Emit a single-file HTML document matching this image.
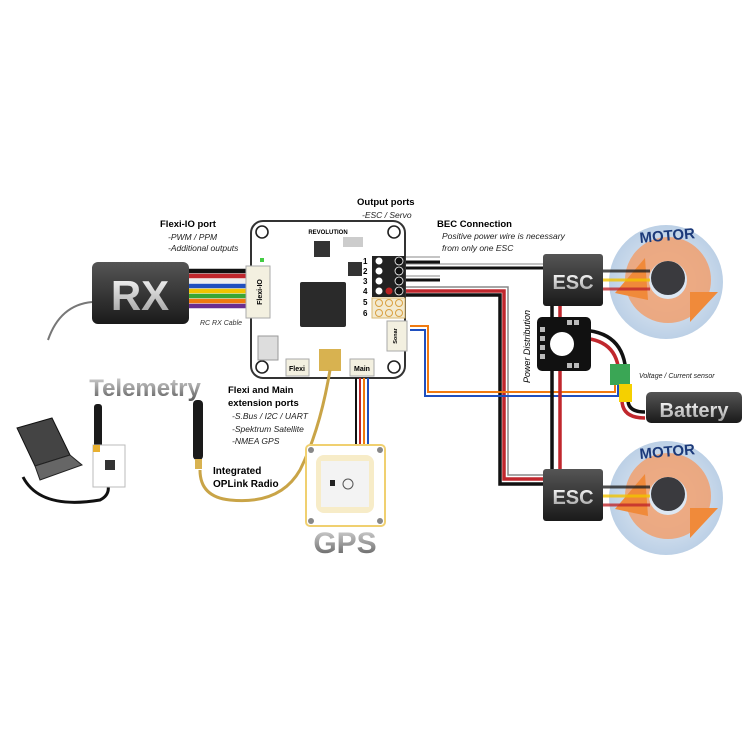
<!DOCTYPE html>
<html><head><meta charset="utf-8"><style>
html,body{margin:0;padding:0;background:#fff}
svg{display:block}
text{font-family:"Liberation Sans",sans-serif}
</style></head><body>
<svg width="750" height="750" viewBox="0 0 750 750" xmlns="http://www.w3.org/2000/svg">
<defs>
<linearGradient id="gt" x1="0" y1="0" x2="0" y2="1"><stop offset="0" stop-color="#d8d8d8"/><stop offset="0.5" stop-color="#9a9a9a"/><stop offset="1" stop-color="#555"/></linearGradient>
<linearGradient id="gb" x1="0" y1="0" x2="0" y2="1"><stop offset="0" stop-color="#555"/><stop offset="1" stop-color="#1a1a1a"/></linearGradient>
<linearGradient id="gw" x1="0" y1="0" x2="0" y2="1"><stop offset="0" stop-color="#fff"/><stop offset="1" stop-color="#999"/></linearGradient>
<radialGradient id="gm"><stop offset="0.3" stop-color="#dde7f2"/><stop offset="1" stop-color="#bcd0e6"/></radialGradient>
</defs>

<path d="M92 302 Q60 305 48 340" fill="none" stroke="#777" stroke-width="2"/>
<g stroke-width="4.4">
<line x1="185" y1="271" x2="250" y2="271" stroke="#111"/>
<line x1="185" y1="276" x2="250" y2="276" stroke="#c0272d"/>
<line x1="185" y1="281" x2="250" y2="281" stroke="#eee"/>
<line x1="185" y1="286" x2="250" y2="286" stroke="#1f4fbf"/>
<line x1="185" y1="291" x2="250" y2="291" stroke="#f2c400"/>
<line x1="185" y1="296" x2="250" y2="296" stroke="#3aa635"/>
<line x1="185" y1="301" x2="250" y2="301" stroke="#f07a10"/>
<line x1="185" y1="306" x2="250" y2="306" stroke="#6a2d91"/>
</g>
<rect x="92" y="262" width="97" height="62" rx="6" fill="url(#gb)"/>
<text x="140" y="310" font-size="42" font-weight="bold" fill="url(#gw)" text-anchor="middle">RX</text>
<text x="200" y="325" font-size="7" font-style="italic" fill="#333">RC RX Cable</text>

<text x="160" y="227" font-size="9.5" font-weight="bold">Flexi-IO port</text>
<text x="168" y="240" font-size="8.5" font-style="italic" fill="#222">-PWM / PPM</text>
<text x="168" y="251" font-size="8.5" font-style="italic" fill="#222">-Additional outputs</text>
<text x="357" y="205" font-size="9.5" font-weight="bold">Output ports</text>
<text x="362" y="218" font-size="8.5" font-style="italic" fill="#222">-ESC / Servo</text>
<text x="437" y="227" font-size="9.5" font-weight="bold">BEC Connection</text>
<text x="442" y="239" font-size="8.5" font-style="italic" fill="#222">Positive power wire is necessary</text>
<text x="442" y="251" font-size="8.5" font-style="italic" fill="#222">from only one ESC</text>

<!-- motors -->
<g id="m1">
<circle cx="666" cy="282" r="57" fill="url(#gm)"/>
<circle cx="668" cy="280" r="31" fill="none" stroke="#f0a070" stroke-width="24" opacity="0.85"/>
<path d="M615 293 L645 258 L648 300 Z" fill="#f08a3a"/>
<path d="M690 292 L718 292 L690 322 Z" fill="#f08a3a"/>
<circle cx="668" cy="278" r="17" fill="#3a3a3e"/>
<text x="640" y="243" font-size="15" font-weight="bold" fill="#1c3a7a" transform="rotate(-5 640 243)">MOTOR</text>
</g>
<g>
<circle cx="666" cy="498" r="57" fill="url(#gm)"/>
<circle cx="668" cy="496" r="31" fill="none" stroke="#f0a070" stroke-width="24" opacity="0.85"/>
<path d="M615 509 L645 474 L648 516 Z" fill="#f08a3a"/>
<path d="M690 508 L718 508 L690 538 Z" fill="#f08a3a"/>
<circle cx="668" cy="494" r="17" fill="#3a3a3e"/>
<text x="640" y="459" font-size="15" font-weight="bold" fill="#1c3a7a" transform="rotate(-5 640 459)">MOTOR</text>
</g>
<g stroke-width="3" opacity="0.8">
<line x1="600" y1="271" x2="650" y2="271" stroke="#222"/><line x1="600" y1="280" x2="650" y2="280" stroke="#f2c400"/><line x1="600" y1="289" x2="650" y2="289" stroke="#c0272d"/>
<line x1="600" y1="487" x2="650" y2="487" stroke="#222"/><line x1="600" y1="496" x2="650" y2="496" stroke="#f2c400"/><line x1="600" y1="505" x2="650" y2="505" stroke="#c0272d"/>
</g>

<g fill="none">
<line x1="405" y1="262" x2="440" y2="262" stroke="#111" stroke-width="3"/>
<line x1="405" y1="257" x2="440" y2="257" stroke="#888" stroke-width="1"/>
<path d="M405 268 L545 268" stroke="#111" stroke-width="3"/><path d="M405 264 L545 264" stroke="#888" stroke-width="1"/>
<line x1="405" y1="280" x2="440" y2="280" stroke="#111" stroke-width="3"/>
<line x1="405" y1="276" x2="440" y2="276" stroke="#888" stroke-width="1"/>
<path d="M405 287 L508 287 L508 475 L545 475" stroke="#888" stroke-width="1.5"/>
<path d="M405 291 L504 291 L504 479 L545 479" stroke="#c0272d" stroke-width="3.5"/>
<path d="M405 295 L500 295 L500 484 L545 484" stroke="#111" stroke-width="3.5"/>
<path d="M410 326 L428 326 L428 392 L615 392 L615 380" stroke="#f07a10" stroke-width="2"/>
<path d="M410 330 L425 330 L425 396 L618 396 L618 380" stroke="#1f4fbf" stroke-width="2"/>
<line x1="552" y1="300" x2="552" y2="475" stroke="#111" stroke-width="3.5"/>
<line x1="560" y1="300" x2="560" y2="475" stroke="#c0272d" stroke-width="3.5"/>
<path d="M578 330 Q625 330 626 375" stroke="#111" stroke-width="3.5"/>
<path d="M578 338 Q618 338 619 375" stroke="#c0272d" stroke-width="3.5"/>
<path d="M628 400 Q628 412 645 412" stroke="#111" stroke-width="3.5"/>
<path d="M622 400 Q622 418 645 418" stroke="#c0272d" stroke-width="3.5"/>
</g>
<rect x="537" y="317" width="54" height="54" rx="5" fill="#111"/>
<circle cx="562" cy="344" r="12" fill="#fff"/>
<g fill="#bbb"><rect x="540" y="327" width="5" height="5"/><rect x="540" y="336" width="5" height="5"/><rect x="540" y="345" width="5" height="5"/><rect x="540" y="354" width="5" height="5"/><rect x="567" y="320" width="5" height="5"/><rect x="574" y="320" width="5" height="5"/><rect x="567" y="363" width="5" height="5"/><rect x="574" y="363" width="5" height="5"/></g>
<text x="530" y="383" font-size="9" font-style="italic" transform="rotate(-90 530 383)">Power Distribution</text>
<rect x="610" y="364" width="20" height="21" fill="#3aa655"/>
<rect x="619" y="384" width="13" height="18" fill="#f5d000"/>
<text x="639" y="378" font-size="7" font-style="italic" fill="#222">Voltage / Current sensor</text>
<rect x="646" y="392" width="96" height="31" rx="5" fill="url(#gb)"/>
<text x="694" y="417" font-size="20" font-weight="bold" fill="url(#gw)" text-anchor="middle">Battery</text>
<rect x="543" y="254" width="60" height="52" rx="3" fill="url(#gb)"/>
<text x="573" y="289" font-size="20" font-weight="bold" fill="url(#gw)" text-anchor="middle">ESC</text>
<rect x="543" y="469" width="60" height="52" rx="3" fill="url(#gb)"/>
<text x="573" y="504" font-size="20" font-weight="bold" fill="url(#gw)" text-anchor="middle">ESC</text>

<rect x="251" y="221" width="154" height="157" rx="12" fill="#fff" stroke="#333" stroke-width="2"/>
<g fill="none" stroke="#222" stroke-width="1.6"><circle cx="262" cy="232" r="6"/><circle cx="394" cy="232" r="6"/><circle cx="262" cy="367" r="6"/><circle cx="394" cy="367" r="6"/></g>
<text x="328" y="234" font-size="6" font-weight="bold" text-anchor="middle">REVOLUTION</text>
<rect x="300" y="282" width="46" height="45" rx="2" fill="#2a2a2a"/>
<rect x="314" y="241" width="16" height="16" fill="#333"/>
<rect x="348" y="262" width="14" height="14" fill="#333"/>
<rect x="343" y="237" width="20" height="10" fill="#ccc"/>
<rect x="258" y="336" width="20" height="24" fill="#ddd" stroke="#999"/>
<rect x="246" y="266" width="24" height="52" fill="#f3f0e0" stroke="#aaa"/>
<text x="262" y="292" font-size="7" font-weight="bold" text-anchor="middle" transform="rotate(-90 262 292)">Flexi-IO</text>
<rect x="260" y="258" width="4" height="4" fill="#4c4"/>
<rect x="372" y="256" width="33" height="41" fill="#222"/>
<g fill="#fff" stroke="#222"><circle cx="379" cy="261" r="4"/><circle cx="379" cy="271" r="4"/><circle cx="379" cy="281" r="4"/><circle cx="379" cy="291" r="4"/></g>
<g fill="#111" stroke="#fff" stroke-width="0.8"><circle cx="399" cy="261" r="4"/><circle cx="399" cy="271" r="4"/><circle cx="399" cy="281" r="4"/><circle cx="399" cy="291" r="4"/></g>
<circle cx="389" cy="291" r="3.5" fill="#b22"/>
<rect x="372" y="298" width="33" height="20" fill="#f3ead0" stroke="#d9b870"/>
<g fill="none" stroke="#d9a040"><circle cx="379" cy="303" r="3.5"/><circle cx="389" cy="303" r="3.5"/><circle cx="399" cy="303" r="3.5"/><circle cx="379" cy="313" r="3.5"/><circle cx="389" cy="313" r="3.5"/><circle cx="399" cy="313" r="3.5"/></g>
<g font-size="8" font-weight="bold"><text x="363" y="264">1</text><text x="363" y="274">2</text><text x="363" y="284">3</text><text x="363" y="294">4</text><text x="363" y="305">5</text><text x="363" y="316">6</text></g>
<rect x="387" y="321" width="20" height="30" fill="#f3f0e0" stroke="#aaa"/>
<text x="397" y="336" font-size="5.5" font-weight="bold" text-anchor="middle" transform="rotate(-90 397 336)">Sonar</text>
<rect x="286" y="359" width="23" height="17" fill="#f3f0e0" stroke="#aaa"/>
<text x="297" y="371" font-size="7" font-weight="bold" text-anchor="middle">Flexi</text>
<rect x="350" y="359" width="24" height="17" fill="#f3f0e0" stroke="#aaa"/>
<text x="362" y="371" font-size="7" font-weight="bold" text-anchor="middle">Main</text>
<rect x="319" y="349" width="22" height="22" fill="#d8b250"/>

<g stroke-width="2" fill="none"><line x1="356" y1="378" x2="356" y2="445" stroke="#111"/><line x1="360" y1="378" x2="360" y2="445" stroke="#c0272d"/><line x1="364" y1="378" x2="364" y2="445" stroke="#f07a10"/><line x1="368" y1="378" x2="368" y2="445" stroke="#1f4fbf"/></g>
<path d="M330 370 Q320 430 300 470 Q280 505 230 500 Q200 497 200 470" fill="none" stroke="#c9a447" stroke-width="3"/>
<rect x="193" y="400" width="10" height="60" rx="4" fill="#1a1a1a"/>
<rect x="195" y="459" width="7" height="10" fill="#d8b250"/>
<text x="213" y="474" font-size="10" font-weight="bold">Integrated</text>
<text x="213" y="487" font-size="10" font-weight="bold">OPLink  Radio</text>
<text x="228" y="393" font-size="9.5" font-weight="bold">Flexi and Main</text>
<text x="228" y="406" font-size="9.5" font-weight="bold">extension ports</text>
<text x="232" y="419" font-size="8.5" font-style="italic" fill="#222">-S.Bus / I2C / UART</text>
<text x="232" y="432" font-size="8.5" font-style="italic" fill="#222">-Spektrum Satellite</text>
<text x="232" y="444" font-size="8.5" font-style="italic" fill="#222">-NMEA GPS</text>

<rect x="306" y="445" width="79" height="81" rx="4" fill="#fff" stroke="#f0d070" stroke-width="2"/>
<rect x="316" y="455" width="58" height="58" rx="8" fill="#f7ecc8"/>
<rect x="321" y="461" width="48" height="46" fill="#f3f3f3"/>
<circle cx="348" cy="484" r="5" fill="none" stroke="#555"/>
<rect x="330" y="480" width="5" height="6" fill="#222"/>
<g fill="#888"><circle cx="311" cy="450" r="3"/><circle cx="380" cy="450" r="3"/><circle cx="311" cy="521" r="3"/><circle cx="380" cy="521" r="3"/></g>
<text x="345" y="553" font-size="30" font-weight="bold" fill="url(#gt)" text-anchor="middle">GPS</text>

<text x="145" y="396" font-size="24" font-weight="bold" fill="url(#gt)" text-anchor="middle">Telemetry</text>
<path d="M23 477 Q40 510 100 500 Q110 495 108 485" fill="none" stroke="#111" stroke-width="3"/>
<path d="M17 428 L52 418 L70 455 L35 466 Z" fill="#444" stroke="#111"/>
<path d="M35 466 L70 455 L82 465 L40 480 Z" fill="#666" stroke="#222"/>
<rect x="94" y="404" width="8" height="44" rx="3" fill="#1a1a1a"/>
<rect x="93" y="445" width="32" height="42" fill="#fff" stroke="#bbb"/>
<rect x="93" y="445" width="7" height="7" fill="#e8b030"/>
<rect x="105" y="460" width="10" height="10" fill="#333"/>
</svg>
</body></html>
